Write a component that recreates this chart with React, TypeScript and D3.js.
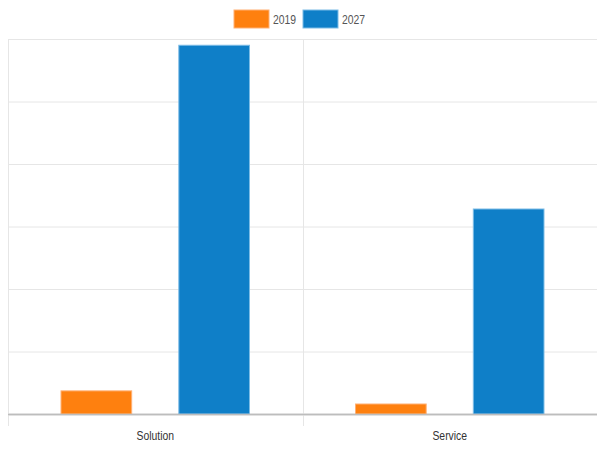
import React from "react";
import * as d3 from "d3";

const categories = ["Solution", "Service"];
const seriesNames = ["2019", "2027"];
const values2019 = [3.7, 1.6];
const values2027 = [59, 32.8];
const yTicks = [0, 10, 20, 30, 40, 50, 60];
const colors = ["#fe800f", "#0f7fc8"];
const strokes = ["#ffb074", "#7cbce6"];

export default function App() {
  const W = 600, H = 452;
  const left = 8, right = 597, top = 39, bottom = 414;
  const x = d3.scaleBand<string>().domain(categories).range([left, right]).paddingInner(0).paddingOuter(0);
  const x1 = d3.scaleBand<string>().domain(seriesNames).range([0, x.bandwidth()]).paddingInner(0.4).paddingOuter(0.45);
  const y = d3.scaleLinear().domain([0, 60]).range([bottom, top]);
  const series = [values2019, values2027];
  const font = "'Liberation Sans', Arial, sans-serif";
  const sx = 0.8;
  return (
    <svg width={W} height={H} style={{ position: "absolute", left: 0, top: 0 }} fontFamily={font}>
      <rect width={W} height={H} fill="#fff" />
      {yTicks.map((t) => (
        <line key={t} x1={left} x2={right} y1={y(t) + 0.5} y2={y(t) + 0.5} stroke={t === 0 ? "#bdbdbd" : "#e6e6e6"} strokeWidth={t === 0 ? 1.5 : 1} />
      ))}
      {[left, left + x.bandwidth()].map((vx, i) => (
        <line key={i} x1={Math.round(vx) + 0.5} x2={Math.round(vx) + 0.5} y1={top} y2={bottom + 12} stroke="#e6e6e6" />
      ))}
      {categories.map((c, ci) =>
        seriesNames.map((s, si) => {
          const bx = (x(c) as number) + (x1(s) as number);
          const v = series[si][ci];
          return (
            <rect key={c + s} x={bx} y={y(v)} width={x1.bandwidth()} height={bottom - y(v)} fill={colors[si]} stroke={strokes[si]} strokeWidth={1} />
          );
        })
      )}
      <line x1={left} x2={right} y1={bottom + 0.5} y2={bottom + 0.5} stroke="#bdbdbd" strokeWidth={1.5} />
      {categories.map((c) => (
        <text key={c} transform={`translate(${(x(c) as number) + x.bandwidth() / 2},440) scale(${sx},1)`} textAnchor="middle" fontSize={13} fill="#333">{c}</text>
      ))}
      {seriesNames.map((s, i) => (
        <g key={s} transform={`translate(${234 + i * 69},10)`}>
          <rect width={35} height={18} fill={colors[i]} stroke={strokes[i]} strokeWidth={1} />
          <text transform={`translate(39,13.5) scale(${sx},1)`} fontSize={13} fill="#555">{s}</text>
        </g>
      ))}
    </svg>
  );
}
